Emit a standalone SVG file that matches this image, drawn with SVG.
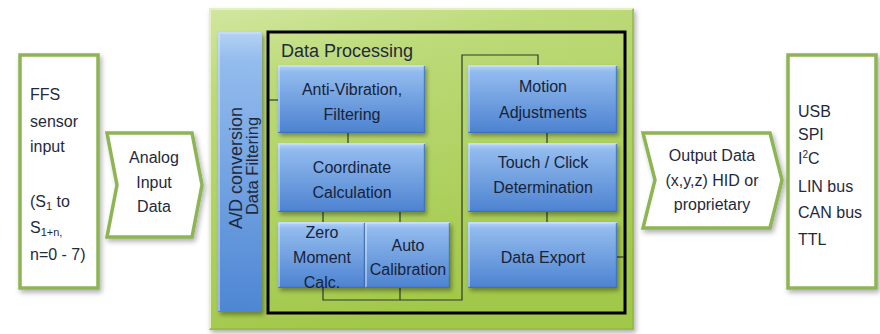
<svg xmlns="http://www.w3.org/2000/svg" width="880" height="334" viewBox="0 0 880 334">
  <defs>
    <linearGradient id="gGreen" x1="0" y1="0" x2="0.3" y2="1">
      <stop offset="0" stop-color="#D2E7A0"/>
      <stop offset="0.25" stop-color="#BCDA78"/>
      <stop offset="1" stop-color="#A2C84A"/>
    </linearGradient>
    <linearGradient id="gBlue" x1="0" y1="0" x2="0" y2="1">
      <stop offset="0" stop-color="#BAD6F7"/>
      <stop offset="0.1" stop-color="#92BBEE"/>
      <stop offset="1" stop-color="#4C82D0"/>
    </linearGradient>
    <linearGradient id="gBar" x1="0" y1="0" x2="0" y2="1">
      <stop offset="0" stop-color="#B5D2F4"/>
      <stop offset="0.1" stop-color="#94BCEE"/>
      <stop offset="1" stop-color="#4E86D4"/>
    </linearGradient>
    <filter id="shadow" x="-10%" y="-10%" width="130%" height="130%">
      <feDropShadow dx="2" dy="3" stdDeviation="2" flood-color="#000" flood-opacity="0.35"/>
    </filter>
    <filter id="softShadow" x="-10%" y="-10%" width="130%" height="130%">
      <feDropShadow dx="2" dy="3" stdDeviation="2.5" flood-color="#000" flood-opacity="0.3"/>
    </filter>
  </defs>
  <style>
    text { font-family: "Liberation Sans Narrow", "Liberation Sans", sans-serif; fill: #1F2A3C; }
    .lbl { font-size: 16px; }
    .mid { text-anchor: middle; }
    .io { fill: #FFFFFF; stroke: #8DB552; stroke-width: 3.5; stroke-linejoin: miter; }
    .blk { fill: url(#gBlue); }
    .hl { fill: none; stroke: #DCEBFC; stroke-width: 1.2; opacity: 0.8; }
    .lo { fill: none; stroke: #3D6DB5; stroke-width: 1.2; opacity: 0.8; }
    .wire { fill: none; stroke: #2E3A2A; stroke-width: 1.2; }
    .btxt { font-size: 16px; fill: #17233A; text-anchor: middle; }
  </style>

  <rect width="880" height="334" fill="#FFFFFF"/>

  <!-- sensor input box -->
  <g id="sensor-input">
    <rect class="io" x="20" y="55" width="78" height="233" filter="url(#softShadow)"/>
    <text class="lbl" x="30" y="100">FFS</text>
    <text class="lbl" x="30" y="127">sensor</text>
    <text class="lbl" x="30" y="152">input</text>
    <text class="lbl" x="30" y="207">(S<tspan font-size="11" dy="3">1</tspan><tspan dy="-3"> to</tspan></text>
    <text class="lbl" x="30" y="233">S<tspan font-size="11" dy="3">1+n,</tspan></text>
    <text class="lbl" x="30" y="260">n=0 - 7)</text>
  </g>

  <!-- analog input chevron -->
  <g id="analog-input">
    <polygon class="io" points="107,133 192,133 202,185 192,237 107,237 117,185" filter="url(#softShadow)"/>
    <text class="lbl mid" x="154" y="163">Analog</text>
    <text class="lbl mid" x="154" y="188">Input</text>
    <text class="lbl mid" x="154" y="212">Data</text>
  </g>

  <!-- main controller block -->
  <g id="controller">
    <rect x="209" y="8" width="425" height="322" fill="url(#gGreen)" filter="url(#softShadow)"/>
    <polyline points="210,329 210,9 633,9" fill="none" stroke="#E4F0C4" stroke-width="2"/>
    <polyline points="633,9 633,329 210,329" fill="none" stroke="#93BB44" stroke-width="1.5"/>
  </g>

  <!-- A/D conversion bar -->
  <g id="ad-conversion">
    <rect x="218" y="32" width="44" height="280" fill="url(#gBar)" filter="url(#shadow)"/>
    <polyline class="hl" points="219,311 219,33 261,33"/>
    <text font-size="18" class="mid" transform="translate(242,168) rotate(-90)">A/D conversion</text>
    <text font-size="16.5" class="mid" transform="translate(258,166) rotate(-90)">Data Filtering</text>
  </g>

  <!-- data processing frame -->
  <g id="data-processing">
    <rect x="268" y="32" width="357" height="281" fill="none" stroke="#000000" stroke-width="3"/>
    <text font-size="18" x="281" y="57">Data Processing</text>
  </g>

  <!-- connectors -->
  <g id="connectors">
    <line class="wire" x1="269" y1="100" x2="279" y2="100"/>
    <line class="wire" x1="348" y1="133" x2="348" y2="143"/>
    <line class="wire" x1="323" y1="212" x2="323" y2="222"/>
    <line class="wire" x1="400" y1="212" x2="400" y2="222"/>
    <polyline class="wire" points="323,288 323,300 462,300 462,55 538,55 538,65"/>
    <line class="wire" x1="400" y1="288" x2="400" y2="300"/>
    <line class="wire" x1="547" y1="133" x2="547" y2="143"/>
    <line class="wire" x1="547" y1="212" x2="547" y2="222"/>
    <line class="wire" x1="617" y1="257" x2="624" y2="257"/>
  </g>

  <g id="anti-vibration">
    <rect class="blk" x="278" y="65" width="147" height="68" filter="url(#shadow)"/>
    <polyline class="hl" points="279,132 279,66 424,66"/>
    <polyline class="lo" points="279,132.4 424.4,132.4 424.4,66"/>
    <text class="btxt" x="352" y="95">Anti-Vibration,</text>
    <text class="btxt" x="352" y="120">Filtering</text>
  </g>

  <g id="coordinate-calculation">
    <rect class="blk" x="278" y="143" width="147" height="69" filter="url(#shadow)"/>
    <polyline class="hl" points="279,211 279,144 424,144"/>
    <polyline class="lo" points="279,211.4 424.4,211.4 424.4,144"/>
    <text class="btxt" x="352" y="173">Coordinate</text>
    <text class="btxt" x="352" y="198">Calculation</text>
  </g>

  <g id="zero-moment">
    <rect class="blk" x="278" y="222" width="87" height="66" filter="url(#shadow)"/>
    <polyline class="hl" points="279,287 279,223 364,223"/>
    <polyline class="lo" points="279,287.4 364.4,287.4 364.4,223"/>
    <text class="btxt" x="322" y="238">Zero</text>
    <text class="btxt" x="322" y="263">Moment</text>
    <text class="btxt" x="322" y="288">Calc.</text>
  </g>

  <g id="auto-calibration">
    <rect class="blk" x="365" y="222" width="85" height="66" filter="url(#shadow)"/>
    <polyline class="hl" points="366,287 366,223 449,223"/>
    <polyline class="lo" points="366,287.4 449.4,287.4 449.4,223"/>
    <text class="btxt" x="408" y="251">Auto</text>
    <text class="btxt" x="408" y="275">Calibration</text>
  </g>

  <g id="motion-adjustments">
    <rect class="blk" x="468" y="65" width="149" height="68" filter="url(#shadow)"/>
    <polyline class="hl" points="469,132 469,66 616,66"/>
    <polyline class="lo" points="469,132.4 616.4,132.4 616.4,66"/>
    <text class="btxt" x="543" y="92">Motion</text>
    <text class="btxt" x="543" y="118">Adjustments</text>
  </g>

  <g id="touch-click">
    <rect class="blk" x="468" y="143" width="149" height="69" filter="url(#shadow)"/>
    <polyline class="hl" points="469,211 469,144 616,144"/>
    <polyline class="lo" points="469,211.4 616.4,211.4 616.4,144"/>
    <text class="btxt" x="543" y="168">Touch / Click</text>
    <text class="btxt" x="543" y="193">Determination</text>
  </g>

  <g id="data-export">
    <rect class="blk" x="468" y="222" width="149" height="66" filter="url(#shadow)"/>
    <polyline class="hl" points="469,287 469,223 616,223"/>
    <polyline class="lo" points="469,287.4 616.4,287.4 616.4,223"/>
    <text class="btxt" x="543" y="263">Data Export</text>
  </g>

  <!-- output data chevron -->
  <g id="output-data">
    <polygon class="io" points="643,133 770,133 782,180 770,228 643,228 655,180" filter="url(#softShadow)"/>
    <text class="lbl mid" x="712" y="161">Output Data</text>
    <text class="lbl mid" x="712" y="186">(x,y,z) HID or</text>
    <text class="lbl mid" x="712" y="210">proprietary</text>
  </g>

  <!-- interface list box -->
  <g id="interfaces">
    <rect class="io" x="788" y="55" width="88" height="233" filter="url(#softShadow)"/>
    <text class="lbl" x="798" y="117">USB</text>
    <text class="lbl" x="798" y="140">SPI</text>
    <text class="lbl" x="798" y="164">I<tspan font-size="10" dy="-6">2</tspan><tspan dy="6">C</tspan></text>
    <text class="lbl" x="798" y="192">LIN bus</text>
    <text class="lbl" x="798" y="218">CAN bus</text>
    <text class="lbl" x="798" y="245">TTL</text>
  </g>
</svg>
